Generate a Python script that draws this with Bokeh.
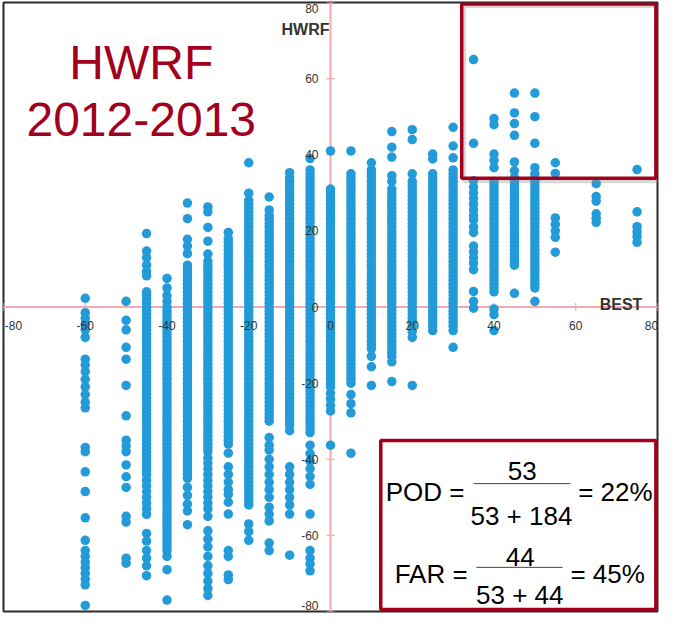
from bokeh.plotting import figure
from bokeh.models import ColumnDataSource, Span, Label, LabelSet, BoxAnnotation
from bokeh.embed import file_html
from bokeh.resources import INLINE
from bokeh.core.properties import value
import math

# ---------------- data ----------------
best_values = [-60, -50, -45, -40, -35, -30, -25, -20, -15, -10, -5, 0,
               5, 10, 15, 20, 25, 30, 35, 40, 45, 50, 55, 65, 75]

hwrf_at_m60 = [2.3, -1.5, -3, -4.5, -6, -8, -13.7, -15.2, -17, -19, -21, -23, -25, -26.5,
               -36.9, -38, -43.3, -48.5, -55.4, -61.3, -64, -65.5, -67, -68.5, -70, -71.5,
               -73, -78.4]
hwrf_at_m50 = [1.5, -3.5, -6, -10.6, -13.7, -20.6, -28.6, -35, -36.5, -38, -41.5, -44.6,
               -47.4, -55, -56.5, -66, -67.3]
hwrf_at_m45 = [19.3, 14.7, 13, 11, 9.3, 8.2,
               4, 3, 2, 1, 0, -1, -2, -3, -4, -5, -6, -7, -8, -9, -10, -11, -12, -13, -14,
               -15, -16, -17, -18, -19, -20, -21, -22, -23, -24, -25, -26, -27, -28, -29,
               -30, -31, -32, -33, -34, -35, -36, -37, -38, -39, -40, -41, -42, -43, -44,
               -45.5, -47, -48.5, -50, -51.5, -53, -54.5,
               -59.5, -61.5, -64, -66, -68, -70.6]
hwrf_at_m40 = [7.5, 5, 3, 1.5,
               0, -1, -2, -3, -4, -5, -6, -7, -8, -9, -10, -11, -12, -13, -14, -15, -16,
               -17, -18, -19, -20, -21, -22, -23, -24, -25, -26, -27, -28, -29, -30, -31,
               -32, -33, -34, -35, -36, -37, -38, -39, -40, -41, -42, -43, -44, -45, -46,
               -47, -48, -49, -50, -51, -52, -53, -54, -55, -56, -57, -58, -59, -60, -61,
               -62, -63, -64, -65.5, -69, -77]
hwrf_at_m35 = [27.3, 23.2, 17.8, 16, 14,
               11, 10, 9, 8, 7, 6, 5, 4, 3, 2, 1, 0, -1, -2, -3, -4, -5, -6, -7, -8, -9,
               -10, -11, -12, -13, -14, -15, -16, -17, -18, -19, -20, -21, -22, -23, -24,
               -25, -26, -27, -28, -29, -30, -31, -32, -33, -34, -35, -36, -37, -38, -39,
               -40, -41, -42, -43, -44, -45,
               -47.4, -49.5, -51.8, -53.6, -57.2]
hwrf_at_m30 = [26.3, 25, 20.9, 17.3, 13.9,
               12, 11, 10, 9, 8, 7, 6, 5, 4, 3, 2, 1, 0, -1, -2, -3, -4, -5, -6, -7, -8,
               -9, -10, -11, -12, -13, -14, -15, -16, -17, -18, -19, -20, -21, -22, -23,
               -24, -25, -26, -27, -28, -29, -30, -31, -32, -33, -34, -35, -36, -37, -38,
               -39.7, -41, -42.5, -44, -45.5, -47, -48.5, -50, -51.5, -53, -55,
               -58.8, -61, -63, -65.5, -68, -70, -72, -74, -75.8]
hwrf_at_m25 = [19.6,
               18, 17, 16, 15, 14, 13, 12, 11, 10, 9, 8, 7, 6, 5, 4, 3, 2, 1, 0, -1, -2,
               -3, -4, -5, -6, -7, -8, -9, -10, -11, -12, -13, -14, -15, -16, -17, -18,
               -19, -20, -21, -22, -23, -24, -25, -26, -27, -28, -29, -30, -31, -32, -33,
               -34, -35, -36,
               -38.4, -42, -44, -46, -48, -49.2, -51.3, -54.4, -64, -65.5, -70.4, -71.6]
hwrf_at_m20 = [37.9, 29.9,
               28, 27, 26, 25, 24, 23, 22, 21, 20, 19, 18, 17, 16, 15, 14, 13, 12, 11, 10,
               9, 8, 7, 6, 5, 4, 3, 2, 1, 0, -1, -2, -3, -4, -5, -6, -7, -8, -9, -10, -11,
               -12, -13, -14, -15, -16, -17, -18, -19, -20, -21, -22, -23, -24, -25, -26,
               -27, -28, -29, -30, -31, -32, -33, -34, -35, -36, -37, -38, -39, -40, -41,
               -42, -43, -44, -45, -46, -47, -48, -49, -50, -51, -52,
               -57, -59, -61.3]
hwrf_at_m15 = [28.9,
               25.5, 24, 23, 22, 21, 20, 19, 18, 17, 16, 15, 14, 13, 12, 11, 10, 9, 8, 7,
               6, 5, 4, 3, 2, 1, 0, -1, -2, -3, -4, -5, -6, -7, -8, -9, -10, -11, -12, -13,
               -14, -15, -16, -17, -18, -19, -20, -21, -22, -23, -24, -25, -26, -27, -28,
               -29, -30,
               -34.3, -36.3, -37.6, -40, -42, -44, -46, -48, -50, -52.6, -54.4, -56.2,
               -62, -64]
hwrf_at_m10 = [35.3,
               34, 33, 32, 31, 30, 29, 28, 27, 26, 25, 24, 23, 22, 21, 20, 19, 18, 17, 16,
               15, 14, 13, 12, 11, 10, 9, 8, 7, 6, 5, 4, 3, 2, 1, 0, -1, -2, -3, -4, -5,
               -6, -7, -8, -9, -10, -11, -12, -13, -14, -15, -16, -17, -18, -19, -20, -21,
               -22, -23, -24, -25, -26, -27, -28, -29, -30, -31, -32.5,
               -42, -44, -46, -48, -50, -52, -54.4, -65.2]
hwrf_at_m5 = [39,
              36, 35, 34, 33, 32, 31, 30, 29, 28, 27, 26, 25, 24, 23, 22, 21, 20, 19, 18,
              17, 16, 15, 14, 13, 12, 11, 10, 9, 8, 7, 6, 5, 4, 3, 2, 1, 0, -1, -2, -3,
              -4, -5, -6, -7, -8, -9, -10, -11, -12, -13, -14, -15, -16, -17, -18, -19,
              -20, -21, -22, -23, -24, -25, -26, -27, -28, -29, -30, -31, -32, -33,
              -36.3, -38.5, -40.5, -42.5, -44.5, -46.6, -54.4, -64, -66, -67.5, -69.3]
hwrf_at_0 = [41,
             31, 30, 29, 28, 27, 26, 25, 24, 23, 22, 21, 20, 19, 18, 17, 16, 15, 14, 13,
             12, 11, 10, 9, 8, 7, 6, 5, 4, 3, 2, 1, 0, -1, -2, -3, -4, -5, -6, -7, -8, -9,
             -10, -11, -12, -13, -14, -15, -16, -17, -18, -19, -20, -21, -22.7,
             -24.2, -25.8, -27.3, -36.3]
hwrf_at_5 = [41,
             35, 34, 33, 32, 31, 30, 29, 28, 27, 26, 25, 24, 23, 22, 21, 20, 19, 18, 17,
             16, 15, 14, 13, 12, 11, 10, 9, 8, 7, 6, 5, 4, 3, 2, 1, 0, -1, -2, -3, -4, -5,
             -6, -7, -8, -9, -10, -11, -12, -13, -14, -15, -16, -17, -18, -19, -20,
             -23, -25.4, -27.8, -38.4]
hwrf_at_10 = [37.9,
              36, 35, 34, 33, 32, 31, 30, 29, 28, 27, 26, 25, 24, 23, 22, 21, 20, 19, 18,
              17, 16, 15, 14, 13, 12, 11, 10, 9, 8, 7, 6, 5, 4, 3, 2, 1, 0, -1, -2, -3,
              -4, -5, -6, -7, -8, -9, -10, -11,
              -13, -15.7, -20.6]
hwrf_at_15 = [46.1, 42, 39.4, 34.5, 33,
              31, 30, 29, 28, 27, 26, 25, 24, 23, 22, 21, 20, 19, 18, 17, 16, 15, 14, 13,
              12, 11, 10, 9, 8, 7, 6, 5, 4, 3, 2, 1, 0, -1, -2, -3, -4, -5, -6, -7, -8, -9,
              -10, -11, -12, -13, -14.4,
              -19.6]
hwrf_at_20 = [46.6, 44, 35,
              33, 32, 31, 30, 29, 28, 27, 26, 25, 24, 23, 22, 21, 20, 19, 18, 17, 16, 15,
              14, 13, 12, 11, 10, 9, 8, 7, 6, 5, 4, 3, 2, 1, 0, -1, -2, -3, -4, -5, -6.5,
              -8, -20.6]
hwrf_at_25 = [40.2, 38.9,
              35, 34, 33, 32, 31, 30, 29, 28, 27, 26, 25, 24, 23, 22, 21, 20, 19, 18, 17,
              16, 15, 14, 13, 12, 11, 10, 9, 8, 7, 6, 5, 4, 3, 2, 1, 0, -1, -2, -3, -4, -5,
              -6.2]
hwrf_at_30 = [47.2, 42.3, 39.2,
              36, 35, 34, 33, 32, 31, 30, 29, 28, 27, 26, 25, 24, 23, 22, 21, 20, 19, 18,
              17, 16, 15, 14, 13, 12, 11, 10, 9, 8, 7, 6, 5, 4, 3, 2, 1, 0, -1, -2, -3, -4,
              -5, -6.2, -10.6]
hwrf_at_35 = [65, 43, 33.2, 31.5, 30, 28.5, 27, 25.5, 24, 22.9, 21, 19.6, 16, 14.5, 13, 11.5,
              9.8, 4.1, 1.5, -0.3]
hwrf_at_40 = [49.5, 47.9, 40.2, 38.5, 36.6,
              33, 32, 31, 30, 29, 28, 27, 26, 25, 24, 23, 22, 21, 20, 19, 18, 17, 16, 15,
              14, 13, 12, 11, 10, 9, 8, 7, 6, 5, 4,
              -0.5, -2, -6.2]
hwrf_at_45 = [56.2, 51, 48.2, 45.1, 38.1, 35.8,
              34, 33, 32, 31, 30, 29, 28, 27, 26, 25, 24, 23, 22, 21, 20, 19, 18, 17, 16,
              15, 14, 13, 12, 11,
              3.6]
hwrf_at_50 = [56.2, 50, 43, 36.6, 35,
              34, 33, 32, 31, 30, 29, 28, 27, 26, 25, 24, 23, 22, 21, 20, 19, 18, 17, 16,
              15, 14, 13, 12, 11, 10, 9, 8, 7, 6, 5,
              1.5]
hwrf_at_55 = [37.9, 35.1, 23.4, 21.7, 20, 18.3, 14.4]
hwrf_at_65 = [32.4, 29, 27.8, 24.5, 23.3, 22.2]
hwrf_at_75 = [36.1, 25, 21.1, 19.8, 18.5, 17]

hwrf_columns = [hwrf_at_m60, hwrf_at_m50, hwrf_at_m45, hwrf_at_m40, hwrf_at_m35, hwrf_at_m30,
                hwrf_at_m25, hwrf_at_m20, hwrf_at_m15, hwrf_at_m10, hwrf_at_m5, hwrf_at_0,
                hwrf_at_5, hwrf_at_10, hwrf_at_15, hwrf_at_20, hwrf_at_25, hwrf_at_30,
                hwrf_at_35, hwrf_at_40, hwrf_at_45, hwrf_at_50, hwrf_at_55, hwrf_at_65,
                hwrf_at_75]

tick_values = [-80, -60, -40, -20, 0, 20, 40, 60, 80]
tick_labels = ["-80", "-60", "-40", "-20", "0", "20", "40", "60", "80"]

# ---------------- figure ----------------
xs, ys = [], []
for b, col in zip(best_values, hwrf_columns):
    for v in col:
        xs.append(b)
        ys.append(v)

DARK_RED = "#a2001d"
PINK = "#f6a9ae"
DOT = "#229bd8"
FONT = "Liberation Sans"

p = figure(width=660, height=613, x_range=(-80, 80), y_range=(-80, 80),
           output_backend="svg", toolbar_location=None,
           x_axis_location=None, y_axis_location=None,
           min_border_left=3, min_border_right=3, min_border_top=2, min_border_bottom=2)
p.grid.visible = False
p.outline_line_color = "#2b2b2b"
p.outline_line_width = 2
p.background_fill_color = "white"
p.border_fill_color = "white"

# axes through the origin
p.add_layout(Span(location=0, dimension="width", line_color=PINK, line_width=2, level="underlay"))
p.add_layout(Span(location=0, dimension="height", line_color=PINK, line_width=2, level="underlay"))

n_t = len(tick_values)
tick_src = ColumnDataSource(dict(v=tick_values, zero=[0] * n_t, lab=tick_labels))
p.scatter("v", "zero", source=tick_src, marker="dash", angle=math.pi / 2, size=8,
          line_color=PINK, line_width=1.2, level="underlay")
p.scatter("zero", "v", source=tick_src, marker="dash", size=8,
          line_color=PINK, line_width=1.2, level="underlay")

# the data points
src = ColumnDataSource(dict(best=xs, hwrf=ys))
p.scatter("best", "hwrf", source=src, size=9.5, fill_color=DOT, line_color=None)

# tick labels (end labels nudged inward so they stay on the canvas)
xlab_src = ColumnDataSource(dict(v=tick_values, zero=[0] * n_t, lab=tick_labels,
                                 dx=[10, 0, 0, 0, 0, 0, 0, 0, -6]))
ylab_src = ColumnDataSource(dict(v=tick_values, zero=[0] * n_t, lab=tick_labels,
                                 dy=[6, 0, 0, 0, 0, 0, 0, 0, -6]))
p.add_layout(LabelSet(x="v", y="zero", text="lab", source=xlab_src, x_offset="dx",
                      y_offset=-18, text_align="center", text_baseline="middle",
                      text_font=value(FONT), text_font_size=value("12px"),
                      text_color="#333333"))
p.add_layout(LabelSet(x="zero", y="v", text="lab", source=ylab_src, x_offset=-12,
                      y_offset="dy", text_align="right", text_baseline="middle",
                      text_font=value(FONT), text_font_size=value("12px"),
                      text_color="#333333"))

# axis titles
p.add_layout(Label(x=0, y=72.9, x_offset=-1, text="HWRF", text_align="right",
                   text_baseline="alphabetic", text_font=FONT,
                   text_font_size="16px", text_font_style="bold", text_color="#333333"))
p.add_layout(Label(x=76.3, y=0, y_offset=3, text="BEST", text_align="right",
                   text_baseline="alphabetic", text_font=FONT,
                   text_font_size="16px", text_font_style="bold", text_color="#333333"))

# title
for txt, yy in (("HWRF", 64.2), ("2012-2013", 49.2)):
    p.add_layout(Label(x=-46.3, y=yy, text=txt, text_align="center",
                       text_baseline="alphabetic", text_font=FONT,
                       text_font_size="48px", text_color=DARK_RED))

# highlight boxes
p.add_layout(BoxAnnotation(left=32.7, right=80.3, top=79.0, bottom=33.0,
                           fill_color=None, line_color="#8c8c8c", line_alpha=0.35,
                           line_width=3.5))
p.add_layout(BoxAnnotation(left=32.1, right=79.6, top=79.6, bottom=33.8,
                           fill_color=None, line_color=DARK_RED, line_alpha=1.0,
                           line_width=3.5))
p.add_layout(BoxAnnotation(left=12.3, right=79.6, top=-35.1, bottom=-79.5,
                           fill_color="white", fill_alpha=1.0, line_color=DARK_RED,
                           line_alpha=1.0, line_width=3.5))

# formulas
def formula_text(x, y, txt, align):
    p.add_layout(Label(x=x, y=y, text=txt, text_align=align, text_baseline="alphabetic",
                       text_font=FONT, text_font_size="26px", text_color="black"))

formula_text(13.5, -48.5, "POD =", "left")
formula_text(46.9, -43.1, "53", "center")
formula_text(46.7, -55.0, "53 + 184", "center")
formula_text(60.6, -48.5, "= 22%", "left")
formula_text(15.7, -70.2, "FAR =", "left")
formula_text(46.4, -65.6, "44", "center")
formula_text(46.3, -75.6, "53 + 44", "center")
formula_text(58.7, -70.2, "= 45%", "left")

p.segment(x0=[35.0, 35.7], y0=[-46.4, -68.4], x1=[58.7, 56.8], y1=[-46.4, -68.4],
          line_color="#444444", line_width=1, level="overlay")

open("out.html", "w").write(file_html(p, INLINE))
